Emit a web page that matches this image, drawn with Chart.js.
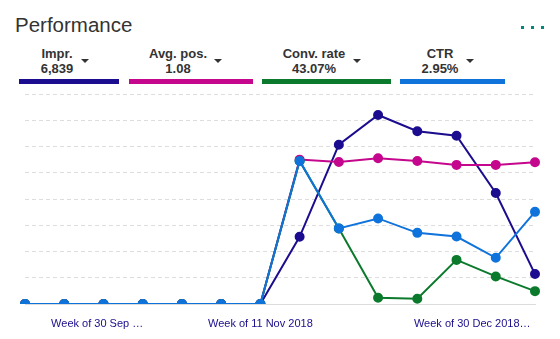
<!DOCTYPE html>
<html>
<head>
<meta charset="utf-8">
<script src="https://cdn.jsdelivr.net/npm/chart.js@4"></script>
<style>
  body { margin: 0; width: 560px; height: 339px; background: #fff; font-family: "Liberation Sans", Arial, sans-serif; position: relative; overflow: hidden; }
  .title { position: absolute; left: 15px; top: 13px; font-size: 20.5px; color: #333; }
  .dots { position: absolute; left: 521px; top: 26px; }
  .dots span { position: absolute; width: 3px; height: 3px; background: #00897b; top: 0; }
  .tab { position: absolute; top: 45px; height: 40px; }
  .tab .name, .tab .val { position: absolute; width: 120px; text-align: center; font-size: 13px; font-weight: bold; color: #333; }
  .tab .name { top: 1px; }
  .tab .val { top: 16px; }
  .tab .arrow { position: absolute; top: 14px; width: 0; height: 0; border-left: 4px solid transparent; border-right: 4px solid transparent; border-top: 4px solid #333; }
  .tab .bar { position: absolute; left: 0; right: 0; top: 34px; height: 5px; }
  #wrap { position: absolute; left: 0; top: 88px; width: 560px; height: 251px; }
</style>
</head>
<body>
<div class="title">Performance</div>
<div class="dots"><span style="left:0"></span><span style="left:10px"></span><span style="left:20px"></span></div>
<div id="tabs"></div>
<div id="wrap"><canvas id="c"></canvas></div>
<script>
const weeks = ['30 Sep', '7 Oct', '14 Oct', '21 Oct', '28 Oct', '4 Nov', '11 Nov', '18 Nov', '25 Nov', '2 Dec', '9 Dec', '16 Dec', '23 Dec', '30 Dec'];
const impr = [0, 0, 0, 0, 0, 0, 0, 2.56, 6.07, 7.2, 6.58, 6.41, 4.23, 1.14];
const avgPos = [0, 0, 0, 0, 0, 0, 0, 5.5, 5.41, 5.55, 5.45, 5.3, 5.3, 5.4];
const convRate = [0, 0, 0, 0, 0, 0, 0, 5.45, 2.88, 0.24, 0.2, 1.68, 1.05, 0.49];
const ctr = [0, 0, 0, 0, 0, 0, 0, 5.45, 2.88, 3.26, 2.71, 2.57, 1.76, 3.51];

const tickLabels = ['Week of 30 Sep \u2026', 'Week of 11 Nov 2018', 'Week of 30 Dec 2018\u2026'];
const tickPos = [1.84, 6, 11.4];

const metrics = [
  { name: 'Impr.', value: '6,839', color: '#1c0c8f', left: 19, width: 100, center: 38, arrow: 62 },
  { name: 'Avg. pos.', value: '1.08', color: '#c4078c', left: 129, width: 124, center: 49, arrow: 85 },
  { name: 'Conv. rate', value: '43.07%', color: '#0b7a2c', left: 262, width: 129, center: 52, arrow: 91 },
  { name: 'CTR', value: '2.95%', color: '#0f73db', left: 400, width: 105, center: 40, arrow: 66 }
];

const tabs = document.getElementById('tabs');
metrics.forEach((m) => {
  const t = document.createElement('div');
  t.className = 'tab';
  t.style.left = m.left + 'px';
  t.style.width = m.width + 'px';
  t.innerHTML = `<div class="name" style="left:${m.center - 60}px">${m.name}</div>` +
    `<div class="val" style="left:${m.center - 60}px">${m.value}</div>` +
    `<div class="arrow" style="left:${m.arrow}px"></div>` +
    `<div class="bar" style="background:${m.color}"></div>`;
  tabs.appendChild(t);
});

const xLabelPlugin = {
  id: 'xLabels',
  afterDraw(chart) {
    const ctx = chart.ctx;
    const x = chart.scales.x;
    ctx.save();
    ctx.font = '11px "Liberation Sans", Arial, sans-serif';
    ctx.fillStyle = '#1a0d8c';
    ctx.textAlign = 'center';
    ctx.textBaseline = 'middle';
    tickLabels.forEach((l, i) => {
      ctx.fillText(l, x.getPixelForValue(tickPos[i]), chart.chartArea.bottom + 20);
    });
    ctx.restore();
  }
};

function ds(data, color, order) {
  return {
    data: data,
    borderColor: color,
    backgroundColor: color,
    borderWidth: 2,
    pointRadius: 4,
    pointHoverRadius: 4,
    tension: 0,
    order: order
  };
}

new Chart(document.getElementById('c'), {
  type: 'line',
  data: {
    labels: weeks,
    datasets: [
      ds(impr, metrics[0].color, 3),
      ds(avgPos, metrics[1].color, 2),
      ds(convRate, metrics[2].color, 1),
      ds(ctr, metrics[3].color, 0)
    ]
  },
  options: {
    responsive: true,
    maintainAspectRatio: false,
    animation: false,
    layout: { padding: { left: 25, right: 25, top: 6, bottom: 35 } },
    plugins: { legend: { display: false }, tooltip: { enabled: false } },
    scales: {
      x: {
        display: true,
        ticks: { display: false },
        grid: { display: false, drawTicks: false },
        border: { display: true, color: '#dcdcdc', width: 1 }
      },
      y: {
        min: 0,
        max: 8,
        ticks: { display: false, stepSize: 1 },
        grid: { color: '#dddddd', drawTicks: false, lineWidth: 1 },
        border: { display: false, dash: [4, 3] }
      }
    }
  },
  plugins: [xLabelPlugin]
});
</script>
</body>
</html>
